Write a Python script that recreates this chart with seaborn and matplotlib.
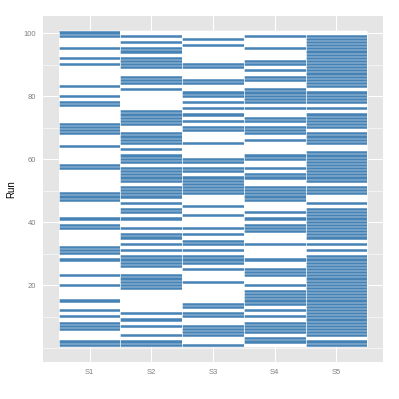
import matplotlib
matplotlib.use("Agg")
import matplotlib.pyplot as plt
from matplotlib.colors import ListedColormap
from matplotlib.ticker import FixedLocator
import numpy as np
import pandas as pd
import seaborn as sns

# ---- data (runs in which each series is "on") ----
series = ["S1", "S2", "S3", "S4", "S5"]
run_values = list(range(1, 101))
y_tick_values = [20, 40, 60, 80, 100]

S1_runs = [100, 99, 95, 92, 90, 83, 80, 78, 77, 71, 70, 69, 68, 64, 58, 57, 49, 48, 47,
           41, 39, 38, 32, 31, 30, 28, 23, 20, 15, 12, 10, 8, 7, 6, 2, 1]
S2_runs = [99, 97, 95, 94, 92, 91, 90, 89, 86, 85, 84, 82, 75, 74, 73, 72, 71, 68, 67, 66,
           65, 63, 61, 60, 59, 57, 56, 55, 54, 53, 51, 50, 49, 48, 46, 44, 43, 41, 38, 36,
           35, 33, 31, 29, 28, 27, 26, 23, 22, 21, 20, 19, 11, 9, 7, 4, 2, 1]
S3_runs = [98, 96, 90, 89, 85, 84, 81, 80, 78, 76, 74, 72, 70, 69, 65, 60, 59, 57, 56, 54,
           53, 52, 51, 50, 49, 45, 42, 38, 36, 34, 33, 31, 29, 28, 27, 25, 21, 14, 13, 11,
           10, 7, 6, 5, 4, 1]
S4_runs = [99, 95, 91, 90, 88, 86, 85, 82, 81, 80, 79, 78, 76, 73, 72, 70, 69, 68, 66, 61,
           60, 57, 55, 54, 51, 50, 49, 48, 47, 43, 41, 39, 38, 37, 33, 28, 25, 24, 23, 20,
           18, 17, 16, 15, 14, 12, 10, 8, 7, 6, 5, 3, 2]
S5_runs = [99, 98, 97, 96, 95, 94, 93, 92, 91, 90, 89, 88, 87, 86, 85, 84, 83,
           81, 80, 79, 78, 76, 74, 73, 72, 71, 70, 68, 67, 66, 65,
           62, 61, 60, 59, 58, 57, 56, 55, 54, 53, 51, 50, 49, 46,
           44, 43, 42, 41, 40, 39, 38, 37, 36, 35, 33, 31,
           29, 28, 27, 26, 25, 24, 23, 22, 21, 20, 19, 18, 17, 16, 15, 14, 13, 12,
           11, 10, 9, 8, 7, 6, 5, 4, 2, 1]

records = []
for name, on_runs in zip(series, [S1_runs, S2_runs, S3_runs, S4_runs, S5_runs]):
    on = set(on_runs)
    for r in run_values:
        records.append({"Series": name, "Run": r, "Hit": 1 if r in on else 0})
df = pd.DataFrame(records)

# ---- figure ----
sns.set_style("white")
plt.rcParams["font.family"] = ["Liberation Sans", "DejaVu Sans"]

fig = plt.figure(figsize=(3.99, 3.99), dpi=100)
ax = fig.add_axes([0.1085, 0.0915, 0.8505, 0.8692])
ax.set_facecolor("#E5E5E5")

sns.histplot(data=df, x="Series", y="Run", weights="Hit", discrete=(True, True),
             thresh=None, cmap=ListedColormap(["white", "#4682B4"]), vmin=0, vmax=1,
             edgecolor="none", linewidth=0, antialiased=True, cbar=False, ax=ax, zorder=2)

# thin white tile borders (styling only)
n_s = len(series)
ax.hlines([r + 0.5 for r in [0] + run_values], -0.5, n_s - 0.5, color="white",
          linewidth=0.35, zorder=3)
ax.vlines([i - 0.5 for i in range(n_s + 1)], 0.5, len(run_values) + 0.5, color="white",
          linewidth=0.5, zorder=3)

ax.set_xlim(-0.75, 4.75)
ax.set_ylim(-4.5, 105.5)
ax.set_xticks(range(n_s))
ax.set_xticklabels(series)
ax.yaxis.set_major_locator(FixedLocator(y_tick_values))
ax.yaxis.set_minor_locator(FixedLocator([0, 10, 30, 50, 70, 90]))

ax.set_axisbelow(True)
ax.grid(True, which="major", color="white", linewidth=0.8)
ax.grid(True, which="minor", axis="y", color="white", linewidth=0.4)

for sp in ax.spines.values():
    sp.set_visible(False)

ax.tick_params(axis="both", which="major", length=1.8, width=0.5, color="#7F7F7F",
               labelcolor="#7F7F7F", labelsize=5.5, pad=3.2)
ax.tick_params(axis="y", which="minor", length=0)

ax.set_xlabel("")
ax.set_ylabel("Run", fontsize=6.9, color="black")
ax.yaxis.set_label_coords(-0.08, 0.5)

fig.savefig("out.png", dpi=100)
